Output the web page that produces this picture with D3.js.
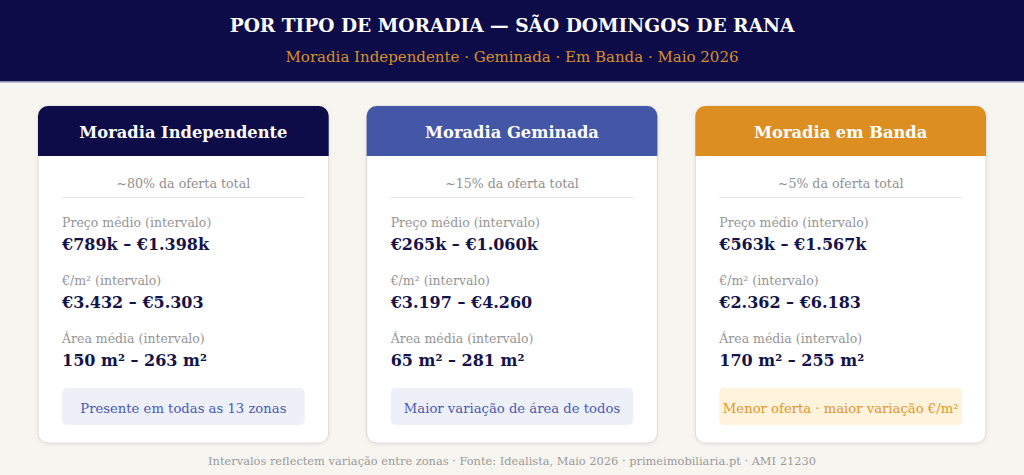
<!DOCTYPE html>
<html><head><meta charset="utf-8">
<script src="https://cdn.jsdelivr.net/npm/d3@7"></script>
<style>html,body{margin:0;padding:0;background:#f7f5f0;}svg{display:block;}</style>
</head><body>
<script>
const title = "POR TIPO DE MORADIA — SÃO DOMINGOS DE RANA";
const subtitle = "Moradia Independente · Geminada · Em Banda · Maio 2026";
const footer = "Intervalos reflectem variação entre zonas · Fonte: Idealista, Maio 2026 · primeimobiliaria.pt · AMI 21230";
const categories = ["Moradia Independente", "Moradia Geminada", "Moradia em Banda"];
const shares = ["~80% da oferta total", "~15% da oferta total", "~5% da oferta total"];
const metricLabels = ["Preço médio (intervalo)", "€/m² (intervalo)", "Área média (intervalo)"];
const priceRanges = ["€789k – €1.398k", "€265k – €1.060k", "€563k – €1.567k"];
const sqmRanges = ["€3.432 – €5.303", "€3.197 – €4.260", "€2.362 – €6.183"];
const areaRanges = ["150 m² – 263 m²", "65 m² – 281 m²", "170 m² – 255 m²"];
const notes = ["Presente em todas as 13 zonas", "Maior variação de área de todos", "Menor oferta · maior variação €/m²"];
const headColors = ["#0e0c48", "#4456a6", "#dc8f20"];
const noteFills = ["#eef0f9", "#eef0f9", "#fff3dc"];
const noteColors = ["#4a5aad", "#4a5aad", "#e0962c"];

const W = 1024, H = 475;
const font = "DejaVu Serif, serif";
const svg = d3.select("body").append("svg").attr("width", W).attr("height", H);
svg.append("rect").attr("width", W).attr("height", H).attr("fill", "#f7f5f0");

// header
svg.append("rect").attr("width", W).attr("height", 82).attr("fill", "#0e0c48");
svg.append("rect").attr("y", 81).attr("width", W).attr("height", 1.5).attr("fill", "#8a8cb0");
svg.append("text").attr("x", W/2).attr("y", 32).attr("text-anchor", "middle")
  .attr("font-family", font).attr("font-weight", "bold").attr("font-size", 18.6)
  .attr("fill", "#ffffff").text(title);
svg.append("text").attr("x", W/2).attr("y", 62).attr("text-anchor", "middle")
  .attr("font-family", font).attr("font-size", 15)
  .attr("fill", "#d4902c").text(subtitle);

const x = d3.scaleBand().domain(categories).range([38, 986]).paddingInner(38/329*1.0).paddingOuter(0);
const cardTop = 106, cardH = 337, headH = 50, r = 10;

const defs = svg.append("defs");
const f = defs.append("filter").attr("id", "sh").attr("x", "-10%").attr("y", "-10%").attr("width", "120%").attr("height", "120%");
f.append("feDropShadow").attr("dx", 0).attr("dy", 1).attr("stdDeviation", 1.5).attr("flood-color", "#000").attr("flood-opacity", 0.08);

const rows = [priceRanges, sqmRanges, areaRanges];

categories.forEach((c, i) => {
  const x0 = x(c), w = x.bandwidth(), cx = x0 + w/2;
  const g = svg.append("g");
  g.append("rect").attr("x", x0).attr("y", cardTop).attr("width", w).attr("height", cardH)
    .attr("rx", r).attr("fill", "#ffffff").attr("stroke", "#dddbd6").attr("stroke-width", 1).attr("filter", "url(#sh)");
  const p = d3.path();
  p.moveTo(x0, cardTop + headH);
  p.lineTo(x0, cardTop + r);
  p.arcTo(x0, cardTop, x0 + r, cardTop, r);
  p.lineTo(x0 + w - r, cardTop);
  p.arcTo(x0 + w, cardTop, x0 + w, cardTop + r, r);
  p.lineTo(x0 + w, cardTop + headH);
  p.closePath();
  g.append("path").attr("d", p.toString()).attr("fill", headColors[i]);
  g.append("text").attr("x", cx).attr("y", cardTop + 32).attr("text-anchor", "middle")
    .attr("font-family", font).attr("font-weight", "bold").attr("font-size", 16.3)
    .attr("fill", "#ffffff").text(c);
  g.append("text").attr("x", cx).attr("y", 188).attr("text-anchor", "middle")
    .attr("font-family", font).attr("font-size", 12.6).attr("fill", "#8f8f8f").text(shares[i]);
  const lx = x0 + 24, rx = x0 + w - 24;
  g.append("line").attr("x1", lx).attr("x2", rx).attr("y1", 197.5).attr("y2", 197.5)
    .attr("stroke", "#e6e6e6").attr("stroke-width", 1);
  metricLabels.forEach((m, k) => {
    const y0 = 227 + k * 58;
    g.append("text").attr("x", lx).attr("y", y0).attr("font-family", font).attr("font-size", 12.5)
      .attr("fill", "#959595").text(m);
    g.append("text").attr("x", lx).attr("y", y0 + 23).attr("font-family", font).attr("font-weight", "bold")
      .attr("font-size", 16).attr("fill", "#14134a").text(rows[k][i]);
  });
  g.append("rect").attr("x", lx).attr("y", 388).attr("width", rx - lx).attr("height", 37).attr("rx", 5)
    .attr("fill", noteFills[i]);
  g.append("text").attr("x", cx).attr("y", 413).attr("text-anchor", "middle")
    .attr("font-family", font).attr("font-size", 13.2).attr("fill", noteColors[i]).text(notes[i]);
});

svg.append("text").attr("x", W/2).attr("y", 465).attr("text-anchor", "middle")
  .attr("font-family", font).attr("font-size", 11.4).attr("fill", "#9a9a9a").text(footer);
</script>
</body></html>
